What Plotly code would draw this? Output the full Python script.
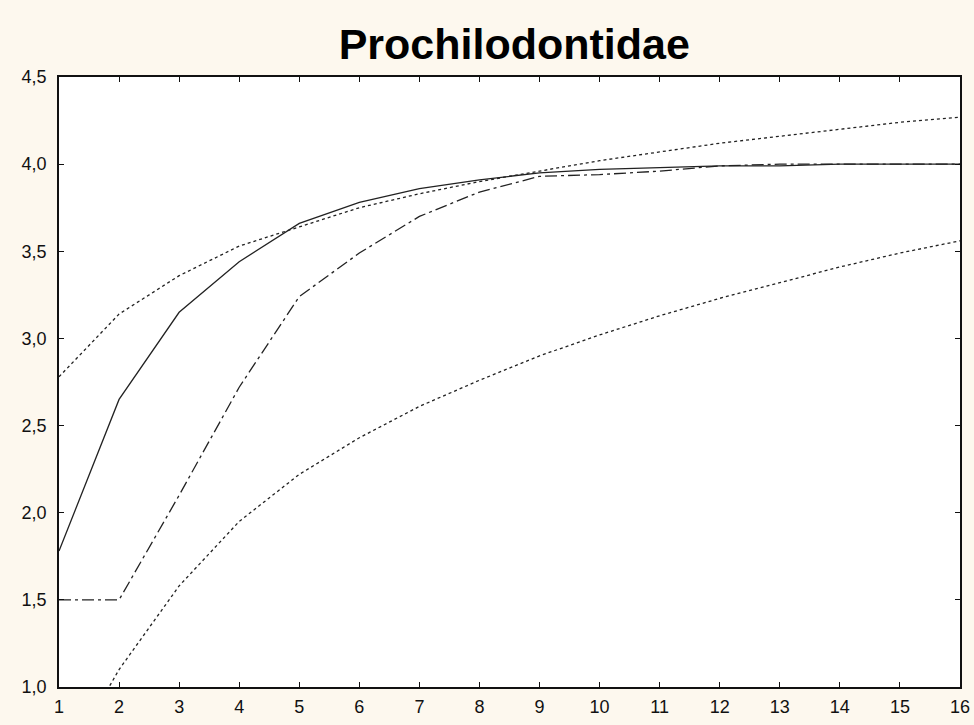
import plotly.graph_objects as go

x = list(range(1, 17))
observed = [1.78, 2.65, 3.15, 3.44, 3.66, 3.78, 3.86, 3.91, 3.95, 3.97, 3.98, 3.99, 3.99, 4.0, 4.0, 4.0]
fitted = [1.50, 1.50, 2.10, 2.72, 3.24, 3.49, 3.70, 3.84, 3.93, 3.94, 3.96, 3.99, 4.0, 4.0, 4.0, 4.0]
upper = [2.78, 3.14, 3.36, 3.53, 3.64, 3.75, 3.83, 3.90, 3.96, 4.02, 4.07, 4.12, 4.16, 4.20, 4.24, 4.27]
lower = [0.50, 1.10, 1.58, 1.95, 2.22, 2.43, 2.61, 2.76, 2.90, 3.02, 3.13, 3.23, 3.32, 3.41, 3.49, 3.56]

title = "Prochilodontidae"
y_ticks = [1.0, 1.5, 2.0, 2.5, 3.0, 3.5, 4.0, 4.5]

fig = go.Figure()
fig.add_trace(go.Scatter(x=x, y=upper, mode="lines",
                         line=dict(color="#222", width=1.3, dash="3px,3px")))
fig.add_trace(go.Scatter(x=x, y=lower, mode="lines",
                         line=dict(color="#222", width=1.3, dash="3px,3px")))
fig.add_trace(go.Scatter(x=x, y=fitted, mode="lines",
                         line=dict(color="#222", width=1.3, dash="12px,4px,3px,4px")))
fig.add_trace(go.Scatter(x=x, y=observed, mode="lines",
                         line=dict(color="#222", width=1.3)))

axis_common = dict(showgrid=False, zeroline=False, showline=True, linecolor="#111",
                   linewidth=1.5, mirror="allticks", ticks="inside", ticklen=5,
                   tickcolor="#111", tickwidth=1.2, automargin=False,
                   tickfont=dict(family="Liberation Sans, Arial", size=18, color="#111"))

fig.update_layout(
    width=974, height=725,
    paper_bgcolor="#FDF8EE", plot_bgcolor="white",
    margin=dict(l=59, r=14, t=77, b=38),
    showlegend=False,
    separators=",.",
    title=dict(text="<b>" + title + "</b>", x=0.528, xanchor="center", y=0.94, yanchor="middle",
               font=dict(family="Liberation Sans, Arial", size=43, color="#000")),
    xaxis=dict(range=[1, 16], tickvals=x, ticklabelstandoff=3, **axis_common),
    yaxis=dict(range=[1.0, 4.5], tickvals=y_ticks, tickformat=".1f", ticklabelstandoff=7, **axis_common),
)

fig.write_html("out.html")
